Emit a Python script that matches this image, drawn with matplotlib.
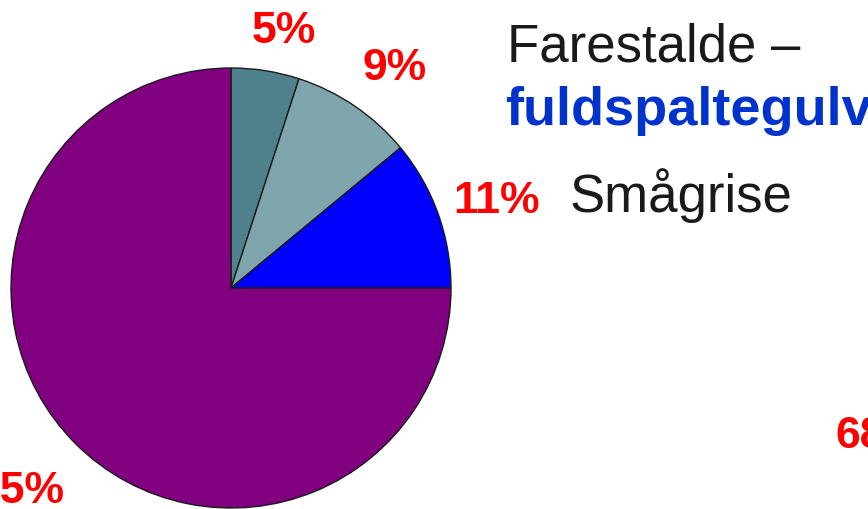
import matplotlib.pyplot as plt

plt.rcParams['font.family'] = ['Liberation Sans', 'DejaVu Sans']

# pie data (clockwise from 12 o'clock)
shares = [5, 9, 11, 75]
slice_colors = ['#4f818c', '#7fa5ac', '#0000ff', '#800080']

# percentage labels, placed as in the original slide (pixel coords, left/baseline)
pct_labels = ['5%', '9%', '11%', '75%', '68%']
pct_pos = [(252, 43), (363, 80), (453, 213), (-25, 503), (835, 448)]

W, H = 868, 510
fig = plt.figure(figsize=(W / 100, H / 100), dpi=100)
ax = fig.add_axes([0, 0, 1, 1])

# pie centre (231, 289) px from top, radius 220 px
ax.pie(shares, colors=slice_colors, startangle=90, counterclock=False,
       center=(231, H - 289), radius=220, frame=True,
       wedgeprops=dict(edgecolor='#1a1a1a', linewidth=1.0))
ax.set_xlim(0, W)
ax.set_ylim(0, H)
ax.axis('off')

for lab, (x, y) in zip(pct_labels, pct_pos):
    ax.text(x, H - y, lab, color='#ff0000', fontsize=32, fontweight='bold',
            ha='left', va='baseline')

ax.text(507, H - 61, 'Farestalde –', color='#1a1a1a', fontsize=38,
        ha='left', va='baseline')
ax.text(505, H - 125, 'fuldspaltegulv', color='#0033cc', fontsize=39,
        fontweight='bold', ha='left', va='baseline')
ax.text(570, H - 212, 'Smågrise', color='#1a1a1a', fontsize=38,
        ha='left', va='baseline')

fig.savefig('out.png', dpi=100)
